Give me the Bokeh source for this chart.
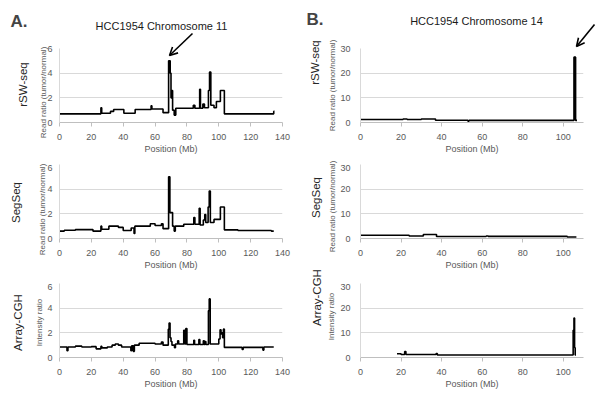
from bokeh.plotting import figure
from bokeh.models import Label, Arrow, OpenHead
from bokeh.layouts import row, column
from bokeh.embed import file_html
from bokeh.resources import INLINE

FONT = "Liberation Sans"

# ---- data: Chromosome 11 (panel A) ----
a_rsw_pos = [0, 26, 26.5, 32, 34, 40.4, 47.5, 57.5, 58, 65, 68.5, 69.5, 70, 70.5, 71, 72, 73,
             84, 85, 88, 88.5, 90, 91, 93.5, 94.2, 95, 97, 98.5, 101, 103.5, 134.5, 135]
a_rsw_val = [0.7, 1.2, 0.75, 0.9, 1.05, 0.75, 1.05, 1.35, 1.1, 0.8, 5.0, 4.0, 2.0, 2.6, 1.0, 0.6, 1.15,
             1.4, 1.15, 2.7, 1.15, 1.5, 1.2, 2.6, 4.1, 1.4, 1.2, 1.7, 2.6, 0.7, 0.9, 0.9]

a_seg_pos = [0, 3, 10, 21, 26, 26.5, 31, 37, 40, 45, 46.8, 47.3, 57, 60, 64, 65, 68.5, 69.3, 71, 72,
             72.7, 78, 84.3, 85, 87.7, 88.3, 90.3, 91.2, 91.8, 93.3, 94, 94.7, 97, 101, 103.5, 112,
             133, 134.5]
a_seg_val = [0.6, 0.67, 0.72, 0.6, 1.0, 0.75, 1.0, 0.9, 0.65, 0.85, 0.4, 1.0, 1.2, 1.05, 1.2, 0.8, 5.0,
             2.1, 1.0, 0.6, 1.0, 1.15, 1.7, 1.15, 2.45, 1.1, 1.5, 1.95, 1.3, 2.55, 3.85, 1.3, 1.55,
             2.55, 0.7, 0.65, 0.6, 0.6]

a_cgh_pos = [0, 4.7, 5.3, 10, 14, 20, 23, 26, 26.6, 30, 33, 35, 37, 39, 44.8, 45.3, 46.3, 47, 50, 60,
             64, 65, 68.3, 68.8, 69.4, 70, 70.6, 72.2, 72.8, 74.2, 74.8, 78, 78.6, 79.3, 80, 84.3,
             84.8, 87.5, 88.1, 90.3, 90.9, 91.3, 91.9, 93.5, 94, 94.6, 100, 100.8, 101.4, 101.9,
             102.4, 102.9, 103.5, 114.7, 115.3, 127.7, 128.3, 134.5]
a_cgh_val = [0.85, 0.55, 0.85, 0.92, 0.85, 0.88, 0.7, 0.9, 0.78, 0.85, 1.0, 1.1, 1.0, 0.85, 0.55,
             0.95, 0.5, 1.0, 1.15, 1.1, 1.25, 1.0, 2.3, 2.8, 1.6, 1.3, 1.0, 0.8, 1.1, 1.35, 1.1, 2.2,
             1.1, 2.35, 1.05, 1.4, 1.05, 1.45, 1.05, 1.35, 1.05, 1.3, 1.05, 3.8, 4.75, 1.1, 1.5, 2.25,
             1.9, 2.0, 1.6, 2.3, 0.82, 0.65, 0.82, 0.6, 0.85, 0.85]

# ---- data: Chromosome 14 (panel B) ----
b_rsw_pos = [0, 21, 23, 30, 37, 53, 53.5, 100, 105.3, 106.1, 106.8]
b_rsw_val = [1.2, 1.4, 1.2, 1.4, 0.9, 0.5, 0.85, 0.85, 26.5, 0.85, 0.85]

b_seg_pos = [0, 24, 31, 37.5, 62, 63, 102, 106.5]
b_seg_val = [1.3, 1.0, 1.6, 0.8, 1.0, 0.85, 0.6, 0.6]

b_cgh_pos = [18, 20, 21.8, 22.4, 37.3, 37.9, 104.9, 105.3, 105.6, 105.9, 106.3]
b_cgh_val = [1.5, 1.2, 2.4, 1.2, 1.6, 1.0, 11, 16, 4, 1.0, 1.0]

a_xticks = [0, 20, 40, 60, 80, 100, 120, 140]
b_xticks = [0, 20, 40, 60, 80, 100]
a_yticks = [0, 2, 4, 6]
b_yticks = [0, 10, 20, 30]

methods = ["rSW-seq", "SegSeq", "Array-CGH"]
ylabels = ["Read ratio (tumor/normal)", "Read ratio (tumor/normal)", "Intensity ratio"]

GRID = "#d9d9d9"
TICKC = "#595959"
FW, FH = 223, 74


def panel(xs, ys, xmax, xticks, ymax, yticks, mb_left, mb_right, mb_top, mb_bottom, tick_standoff):
    p = figure(frame_width=FW, frame_height=FH, x_range=(0, xmax), y_range=(0, ymax),
               output_backend="svg", toolbar_location=None,
               min_border_left=mb_left, min_border_right=mb_right,
               min_border_top=mb_top, min_border_bottom=mb_bottom)
    p.outline_line_color = None
    p.xgrid.visible = False
    p.ygrid.grid_line_color = GRID
    p.xaxis.ticker = xticks
    p.yaxis.ticker = yticks
    for ax in (p.xaxis, p.yaxis):
        ax.minor_tick_line_color = None
        ax.minor_tick_out = 0
        ax.minor_tick_in = 0
        ax.major_label_text_font = FONT
        ax.major_label_text_font_size = "9px"
        ax.major_label_text_color = TICKC
    p.xaxis.axis_line_color = "#bfbfbf"
    p.xaxis.major_tick_line_color = "#bfbfbf"
    p.xaxis.major_tick_out = 4
    p.xaxis.major_tick_in = 0
    p.xaxis.major_label_standoff = 7
    p.xaxis.axis_label = "Position (Mb)"
    p.xaxis.axis_label_text_font = FONT
    p.xaxis.axis_label_text_font_style = "normal"
    p.xaxis.axis_label_text_color = TICKC
    p.xaxis.axis_label_text_font_size = "9px"
    p.xaxis.axis_label_standoff = 1
    p.yaxis.axis_line_color = GRID
    p.yaxis.major_tick_line_color = None
    p.yaxis.major_tick_out = 0
    p.yaxis.major_tick_in = 0
    p.yaxis.major_label_standoff = tick_standoff
    p.step(xs, ys, mode="after", line_color="black", line_width=1.6)
    return p


pa1 = panel(a_rsw_pos, a_rsw_val, 140, a_xticks, 6, a_yticks, 59, 18, 48, 42, 7)
pa2 = panel(a_seg_pos, a_seg_val, 140, a_xticks, 6, a_yticks, 59, 18, 0, 45, 7)
pa3 = panel(a_cgh_pos, a_cgh_val, 140, a_xticks, 6, a_yticks, 59, 18, 0, 41, 7)

pb1 = panel(b_rsw_pos, b_rsw_val, 110, b_xticks, 30, b_yticks, 60, 15, 48, 42, 10)
pb2 = panel(b_seg_pos, b_seg_val, 110, b_xticks, 30, b_yticks, 60, 15, 0, 45, 10)
pb3 = panel(b_cgh_pos, b_cgh_val, 110, b_xticks, 30, b_yticks, 60, 15, 0, 41, 10)

# ---- transparent overlay (page pixel coordinates): letters, titles, side labels, arrows ----
W, H = 598, 398
ov = figure(width=W, height=H, x_range=(0, W), y_range=(H, 0),
            x_axis_type=None, y_axis_type=None, output_backend="svg", toolbar_location=None,
            min_border=0, background_fill_color=None, border_fill_color=None,
            styles={"position": "absolute", "top": "0px", "left": "0px", "z-index": "10",
                    "pointer-events": "none"})
ov.outline_line_color = None
ov.grid.visible = False

ov.add_layout(Label(x=10, y=21, text="A.", text_font=FONT, text_font_size="17px",
                    text_font_style="bold", text_baseline="middle", text_align="left"))
ov.add_layout(Label(x=306, y=19, text="B.", text_font=FONT, text_font_size="17px",
                    text_font_style="bold", text_baseline="middle", text_align="left"))
ov.add_layout(Label(x=161, y=25, text="HCC1954 Chromosome 11", text_font=FONT,
                    text_font_size="11px", text_baseline="middle", text_align="center",
                    text_color="#1a1a1a"))
ov.add_layout(Label(x=476, y=20, text="HCC1954 Chromosome 14", text_font=FONT,
                    text_font_size="11px", text_baseline="middle", text_align="center",
                    text_color="#1a1a1a"))

# side method labels and y-axis labels: (x, y) centres in page pixels
side_pos = [(22, 84), (15.5, 202), (17.5, 322), (314.5, 62), (315, 197), (316.5, 297)]
ylab_pos = [(42.5, 92), (41.5, 209), (39, 322), (332, 85), (332, 206), (330.5, 316)]
for i in range(6):
    sx, sy = side_pos[i]
    lx, ly = ylab_pos[i]
    ov.add_layout(Label(x=sx, y=sy, text=methods[i % 3], angle=90, angle_units="deg",
                        text_font=FONT, text_font_size="11.5px", text_color="#262626",
                        text_baseline="middle", text_align="center"))
    ov.add_layout(Label(x=lx, y=ly, text=ylabels[i % 3], angle=90, angle_units="deg",
                        text_font=FONT, text_font_size="8px", text_color=TICKC,
                        text_baseline="middle", text_align="center"))

ov.add_layout(Arrow(x_start=192, y_start=33, x_end=169, y_end=55, line_width=1.6,
                    end=OpenHead(size=8, line_width=1.6)))
ov.add_layout(Arrow(x_start=594, y_start=24, x_end=576, y_end=46, line_width=1.6,
                    end=OpenHead(size=8, line_width=1.6)))

layout = column(row(column(pa1, pa2, pa3), column(pb1, pb2, pb3)), ov)

open("out.html", "w").write(file_html(layout, INLINE))
